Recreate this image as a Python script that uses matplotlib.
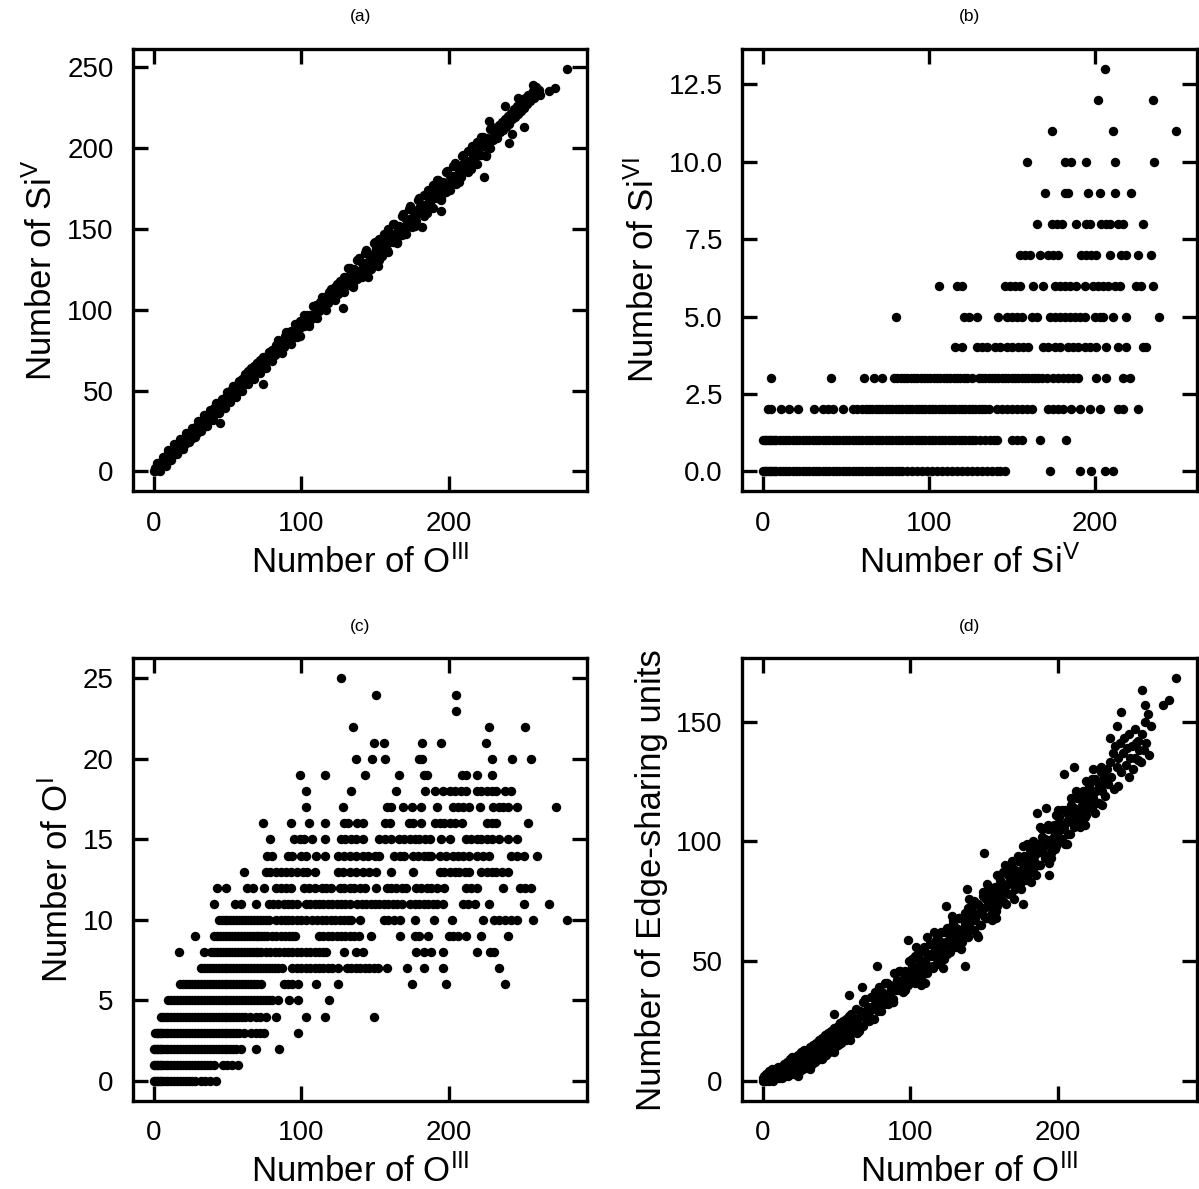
import numpy as np
import matplotlib.pyplot as plt

plt.rcParams['font.family'] = ['Liberation Sans', 'DejaVu Sans']
plt.rcParams['mathtext.fontset'] = 'custom'
plt.rcParams['mathtext.rm'] = 'Liberation Sans'
plt.rcParams['mathtext.it'] = 'Liberation Sans:italic'
plt.rcParams['mathtext.bf'] = 'Liberation Sans:bold'

# -------------------------------------------------
# (a) Si^V vs O^III  -- (O^III, Si^V) pairs
# -------------------------------------------------
pts_a = [
    (0, 0), (1, 0), (1, 2), (2, 1), (2, 3), (3, 1), (3, 4), (4, 2), (4, 5), (5, 3),
    (5, 6), (6, 4), (6, 7), (7, 5), (7, 8), (8, 6), (8, 9), (9, 6), (9, 10), (10, 7),
    (10, 10), (11, 8), (11, 11), (12, 9), (12, 12), (13, 10), (13, 13), (14, 11), (14, 14), (15, 12),
    (15, 15), (16, 13), (16, 16), (17, 13), (17, 17), (18, 14), (18, 18), (19, 15), (19, 19), (20, 16),
    (20, 19), (21, 17), (21, 20), (22, 18), (22, 21), (23, 19), (23, 22), (24, 19), (24, 23), (25, 20),
    (25, 24), (26, 21), (26, 25), (27, 22), (27, 26), (28, 23), (28, 27), (29, 24), (29, 28), (30, 25),
    (30, 29), (31, 26), (31, 29), (32, 27), (32, 30), (33, 27), (33, 31), (34, 28), (34, 32), (35, 29),
    (35, 33), (36, 30), (36, 34), (37, 31), (37, 35), (38, 32), (38, 36), (39, 33), (39, 37), (40, 34),
    (40, 38), (45, 30),
    (41, 35), (41, 39), (42, 36), (42, 40), (43, 37), (43, 39), (44, 38), (44, 41), (45, 38), (45, 42),
    (46, 40), (46, 43), (47, 40), (47, 44), (48, 42), (48, 45), (49, 43), (49, 46), (50, 43), (50, 47),
    (51, 45), (51, 48), (52, 46), (52, 50), (53, 46), (53, 49), (54, 48), (54, 51), (55, 48), (55, 52),
    (56, 50), (56, 53), (57, 50), (57, 54), (58, 52), (58, 55), (59, 52), (59, 56), (60, 54), (60, 57),
    (61, 54), (61, 58), (62, 56), (62, 59), (63, 57), (63, 60), (64, 57), (64, 62), (65, 59), (65, 62),
    (66, 59), (66, 64), (67, 61), (67, 63), (68, 62), (68, 65), (69, 62), (69, 66), (70, 63), (70, 67),
    (72, 64), (72, 69), (73, 66), (74, 67), (74, 54), (75, 68), (76, 68), (76, 71), (77, 70), (78, 69),
    (78, 73), (79, 71), (80, 72), (80, 75),
    (4, 0), (8, 3), (12, 7), (16, 11), (20, 14), (24, 18), (28, 21), (32, 25), (36, 28), (40, 32),
    (44, 36), (48, 39), (52, 43), (56, 46), (60, 50), (64, 54), (68, 57), (72, 61), (76, 64), (80, 68),
    (2, 5), (6, 9), (10, 13), (14, 17), (18, 20), (22, 24), (26, 27), (30, 31), (34, 35), (38, 38),
    (42, 42), (46, 45), (50, 49), (54, 53), (58, 56), (62, 60), (66, 63), (70, 67), (74, 71), (78, 74),
    (81, 74), (82, 72), (83, 78), (84, 75), (85, 74), (86, 79), (87, 78), (88, 77), (89, 84), (90, 80),
    (91, 83), (92, 81), (93, 87), (94, 84), (95, 83), (96, 88), (97, 87), (98, 86), (99, 93), (100, 89),
    (101, 92), (102, 90), (103, 96), (104, 93), (105, 92), (106, 97), (107, 96), (108, 95), (109, 102), (110, 98),
    (111, 101), (112, 99), (113, 105), (114, 102), (115, 101), (116, 106), (117, 105), (118, 104), (119, 111), (120, 107),
    (121, 110), (122, 108), (123, 114), (124, 111), (125, 110), (126, 115), (127, 114), (128, 113), (129, 120), (130, 116),
    (85, 80), (92, 86), (97, 83), (104, 97), (110, 103), (118, 109), (124, 116), (128, 101),
    (84, 81), (90, 86), (96, 91), (102, 97), (108, 102), (114, 108), (120, 113), (126, 118),
    (87, 73), (93, 79), (99, 84), (105, 90), (111, 95), (117, 100), (123, 106), (129, 111),
    (131, 120), (132, 115), (133, 126), (134, 120), (135, 115), (136, 125), (137, 123), (138, 119), (139, 132), (140, 124),
    (141, 129), (142, 124), (143, 135), (144, 129), (145, 124), (146, 134), (147, 132), (148, 128), (149, 141), (150, 133),
    (151, 138), (152, 133), (153, 144), (154, 138), (155, 133), (156, 143), (157, 141), (158, 137), (159, 150), (160, 142),
    (161, 147), (162, 142), (163, 153), (164, 147), (165, 142), (166, 152), (167, 150), (168, 146), (169, 159), (170, 151),
    (171, 156), (172, 151), (173, 162), (174, 156), (175, 151), (176, 161), (177, 159), (178, 155), (179, 168), (180, 160),
    (181, 165), (182, 160), (183, 171), (184, 165), (185, 160), (186, 170), (187, 168), (188, 164), (189, 177), (190, 169),
    (191, 174), (192, 169), (193, 180), (194, 174), (195, 169), (196, 179), (197, 177), (198, 173), (199, 186), (200, 178),
    (201, 183), (202, 178), (203, 189), (204, 183), (205, 178), (206, 188), (207, 186), (208, 182), (209, 195), (210, 187),
    (211, 192), (212, 187), (213, 198), (214, 192), (215, 187), (216, 197), (217, 195), (218, 191), (219, 204), (220, 196),
    (221, 201), (222, 196), (223, 207), (224, 201), (225, 196), (226, 206), (227, 204), (228, 200), (229, 213), (230, 205),
    (135, 121), (142, 128), (145, 120), (150, 136), (152, 127), (158, 142), (165, 148), (172, 155), (180, 163), (182, 151),
    (188, 170), (195, 161), (195, 175), (203, 183), (210, 190), (218, 197), (224, 182), (225, 203),
    (132, 126), (138, 131), (144, 137), (150, 142), (156, 147), (162, 153), (168, 158), (174, 164), (180, 169), (186, 174),
    (192, 180), (198, 185), (204, 191), (210, 196), (216, 201), (222, 207), (228, 212),
    (135, 114), (141, 120), (147, 125), (153, 131), (159, 136), (165, 141), (171, 147), (177, 152), (183, 158), (189, 163),
    (195, 168), (201, 174), (207, 179), (213, 185), (219, 190), (225, 195),
    (231, 208), (232, 212), (233, 206), (234, 214), (235, 210), (236, 216), (237, 211), (238, 218), (238, 226), (239, 213),
    (240, 220), (241, 203), (241, 215), (242, 222), (243, 209), (243, 218), (244, 224), (245, 219), (246, 226), (247, 221),
    (247, 231), (248, 228), (249, 223), (250, 229), (251, 213), (251, 225), (252, 231), (253, 227), (254, 233), (255, 229),
    (256, 232), (257, 235), (257, 239), (258, 231), (259, 238), (260, 234), (261, 236), (262, 233), (227, 217), (268, 235),
    (272, 237), (280, 249),
]

# -------------------------------------------------
# (b) Si^VI vs Si^V  -- Si^V values on each Si^VI level
# -------------------------------------------------
sivi_levels = list(range(14))
siv_rows = [
    [0, 1, 2, 3, 4, 5, 6, 7, 8, 10, 12, 14, 16, 18, 20, 22, 24, 26, 28, 30, 32, 34, 36, 38, 40,
     42, 44, 46, 48, 50, 52, 54, 56, 58, 60, 62, 64, 66, 68, 70, 72, 74, 76, 78, 80, 82, 84, 87,
     90, 93, 96, 99, 102, 105, 108, 111, 114, 117, 120, 123, 126, 129, 132, 135, 138, 141, 143,
     146, 173, 191, 198, 206, 211],
    [0, 1, 2, 3, 4, 5, 6, 7, 8, 10, 12, 14, 16, 18, 20, 22, 24, 26, 28, 30, 32, 34, 36, 38, 40,
     42, 44, 46, 48, 50, 52, 54, 56, 58, 60, 62, 64, 66, 68, 70, 72, 74, 76, 78, 80, 82, 84, 86,
     88, 90, 92, 94, 96, 98, 100, 102, 104, 106, 108, 110, 112, 114, 116, 118, 120, 122, 124, 126,
     128, 131, 134, 137, 139, 141, 150, 153, 156, 167, 183],
    [3, 5, 11, 16, 21, 31, 36, 39, 42, 48, 54, 57, 60, 62, 64, 66, 68, 70, 72, 74, 76, 78, 80, 82,
     84, 86, 88, 90, 92, 94, 96, 98, 100, 102, 104, 106, 108, 110, 112, 114, 116, 118, 120, 122,
     124, 126, 128, 130, 132, 134, 136, 141, 144, 147, 150, 153, 156, 159, 162, 172, 175, 178, 181,
     186, 191, 197, 203, 214, 217, 226],
    [5, 41, 61, 67, 72, 79, 81, 83, 85, 87, 89, 91, 93, 95, 97, 99, 101, 103, 105, 107, 109, 111,
     113, 115, 117, 119, 121, 123, 126, 130, 132, 134, 136, 138, 140, 142, 144, 146, 148, 150, 152,
     154, 156, 158, 160, 162, 164, 166, 168, 171, 175, 178, 181, 184, 187, 190, 201, 207, 217, 221],
    [116, 120, 129, 132, 135, 140, 143, 147, 150, 154, 157, 160, 169, 172, 176, 179, 184, 187, 190,
     194, 197, 201, 207, 214, 219, 229, 231],
    [80, 121, 124, 129, 142, 147, 150, 153, 156, 162, 165, 173, 176, 179, 182, 185, 188, 191, 194,
     200, 203, 205, 211, 219, 239],
    [106, 117, 120, 146, 149, 152, 155, 163, 169, 176, 179, 182, 185, 189, 194, 199, 202, 205, 208,
     212, 215, 225, 228, 235],
    [155, 158, 161, 167, 172, 175, 178, 192, 195, 198, 201, 209, 216, 219, 226, 234],
    [165, 174, 177, 180, 189, 195, 197, 204, 207, 209, 214, 217, 229],
    [170, 182, 184, 196, 203, 212, 222],
    [159, 182, 186, 195, 212, 236],
    [174, 211, 249],
    [202, 235],
    [206],
]

# -------------------------------------------------
# (c) O^I vs O^III  -- O^III values on each O^I level
# -------------------------------------------------
oi_levels = list(range(26))
oiii_rows = [
    [0, 1, 2, 3, 4, 5, 6, 8, 10, 12, 14, 16, 18, 20, 22, 24, 26, 28, 32, 35, 38, 42],
    [0, 1, 2, 3, 4, 5, 6, 8, 10, 12, 14, 16, 18, 20, 22, 24, 26, 28, 30, 32, 34, 36, 38, 41, 47,
     50, 53, 57],
    [0, 1, 2, 3, 4, 5, 6, 8, 10, 12, 14, 16, 18, 20, 22, 24, 26, 28, 30, 32, 34, 36, 38, 40, 42,
     44, 46, 48, 50, 52, 54, 56, 59, 69, 85],
    [1, 2, 3, 4, 5, 6, 8, 10, 12, 14, 16, 18, 20, 22, 24, 26, 28, 30, 32, 34, 36, 38, 40, 42, 44,
     46, 48, 50, 52, 54, 56, 58, 61, 66, 69, 72, 75, 98],
    [5, 6, 8, 10, 12, 14, 16, 18, 20, 22, 24, 26, 28, 30, 32, 34, 36, 38, 40, 42, 44, 46, 48, 50,
     52, 54, 56, 58, 60, 62, 65, 69, 72, 76, 83, 103, 116, 149],
    [10, 12, 14, 16, 18, 20, 22, 24, 26, 28, 30, 32, 34, 36, 38, 40, 42, 44, 46, 48, 50, 52, 54,
     56, 58, 60, 62, 64, 66, 68, 70, 72, 74, 76, 78, 80, 84, 92, 98, 119],
    [18, 20, 22, 24, 26, 28, 30, 32, 34, 36, 38, 40, 42, 44, 46, 48, 50, 52, 54, 56, 58, 60, 62,
     64, 66, 68, 70, 73, 88, 91, 94, 98, 110, 125, 175, 198, 238],
    [32, 34, 36, 38, 40, 42, 44, 46, 48, 50, 52, 54, 56, 58, 60, 62, 64, 66, 68, 70, 72, 74, 76,
     78, 80, 82, 84, 87, 94, 97, 100, 103, 106, 109, 112, 115, 118, 121, 125, 131, 134, 137, 140,
     143, 146, 149, 152, 158, 172, 183, 196, 234],
    [17, 34, 39, 41, 43, 45, 47, 49, 51, 53, 55, 57, 59, 61, 63, 65, 67, 69, 71, 73, 76, 79, 82,
     85, 88, 91, 94, 97, 100, 103, 106, 109, 112, 115, 117, 129, 137, 142, 178, 183, 188, 196, 219,
     228, 231],
    [28, 41, 43, 45, 47, 49, 51, 53, 55, 57, 59, 61, 63, 65, 67, 69, 71, 73, 75, 77, 80, 83, 86,
     89, 92, 94, 96, 112, 115, 118, 121, 124, 127, 130, 133, 136, 139, 147, 167, 177, 180, 186, 200,
     203, 206, 212, 222, 240],
    [44, 46, 48, 50, 52, 54, 56, 58, 60, 62, 64, 66, 68, 70, 72, 74, 76, 78, 83, 86, 89, 91, 94,
     97, 100, 103, 107, 111, 114, 117, 120, 123, 126, 129, 132, 134, 140, 156, 159, 163, 167, 177,
     190, 202, 223, 231, 234, 238, 242, 246, 257, 280],
    [41, 55, 59, 69, 78, 81, 84, 88, 91, 94, 97, 103, 106, 109, 112, 115, 118, 121, 124, 127, 130,
     133, 138, 141, 144, 147, 150, 153, 156, 159, 162, 165, 168, 174, 177, 180, 183, 186, 189, 192,
     196, 210, 213, 218, 227, 251, 268],
    [43, 49, 63, 67, 75, 83, 86, 90, 93, 102, 105, 109, 114, 117, 120, 126, 129, 133, 136, 140,
     143, 151, 158, 161, 164, 168, 171, 178, 181, 185, 188, 192, 197, 212, 215, 219, 237, 248, 252,
     256],
    [61, 76, 79, 83, 86, 90, 93, 97, 101, 104, 109, 125, 128, 133, 137, 142, 146, 151, 161, 176,
     194, 197, 201, 204, 207, 211, 214, 222, 226, 229, 232, 236, 240],
    [77, 80, 91, 94, 100, 103, 110, 116, 125, 129, 133, 137, 142, 145, 150, 153, 163, 167, 170,
     176, 179, 183, 186, 188, 194, 198, 203, 206, 210, 214, 219, 223, 227, 242, 246, 251, 260],
    [79, 95, 99, 102, 107, 116, 127, 130, 134, 137, 142, 153, 157, 161, 166, 170, 174, 177, 180,
     184, 187, 195, 201, 212, 215, 219, 222, 226, 229, 234, 240, 246],
    [74, 93, 105, 116, 129, 132, 138, 142, 157, 160, 173, 176, 181, 191, 194, 197, 201, 204, 209,
     226, 229, 232, 254],
    [103, 128, 158, 161, 169, 175, 181, 192, 203, 206, 210, 214, 221, 230, 234, 237, 240, 246, 273],
    [103, 134, 164, 184, 191, 196, 201, 204, 208, 212, 219, 222, 226, 229, 232, 238, 242],
    [99, 116, 143, 166, 183, 185, 209, 212, 219, 229],
    [137, 148, 157, 180, 182, 229, 243, 256],
    [149, 156, 182, 195, 225],
    [135, 227, 252],
    [205],
    [151, 205],
    [127],
]

# -------------------------------------------------
# (d) Edge-sharing units vs O^III  -- (O^III, edge) pairs
# -------------------------------------------------
pts_d = [
    (0, 0), (0, 1), (1, 0), (1, 2), (2, 0), (2, 3), (3, 1), (3, 3), (4, 0), (4, 4),
    (5, 1), (5, 3), (6, 1), (6, 5), (7, 0), (7, 4), (8, 2), (8, 5), (9, 1), (9, 4),
    (10, 2), (10, 6), (11, 1), (11, 5), (12, 3), (12, 6), (13, 1), (13, 6), (14, 3), (14, 7),
    (15, 2), (15, 6), (16, 4), (16, 8), (17, 2), (17, 7), (18, 4), (18, 9), (19, 3), (19, 8),
    (20, 4), (20, 9), (21, 3), (21, 8), (22, 5), (22, 10), (23, 4), (23, 9), (24, 6), (24, 11),
    (25, 4), (25, 10), (26, 6), (26, 12), (27, 5), (27, 11), (28, 7), (28, 12), (29, 6), (29, 11),
    (30, 7), (30, 13), (31, 6), (31, 12), (32, 8), (32, 14), (33, 7), (33, 13), (34, 9), (34, 15),
    (35, 8), (35, 14), (36, 10), (36, 16), (37, 9), (37, 15), (38, 10), (38, 17), (39, 9), (39, 16),
    (40, 11), (40, 18), (41, 10), (41, 17), (42, 12), (42, 19), (43, 11), (43, 18), (44, 13), (44, 20),
    (45, 12), (45, 19), (46, 14), (46, 21), (47, 13), (47, 20), (48, 15), (48, 22), (48, 28), (49, 14),
    (49, 21), (50, 16), (50, 22), (51, 15), (51, 23), (52, 17), (52, 24), (53, 16), (53, 23), (54, 18),
    (54, 25), (55, 17), (55, 24), (56, 19), (56, 26), (57, 18), (57, 25), (58, 20), (58, 27), (59, 19),
    (59, 26), (60, 21), (60, 28),
    (2, 1), (6, 3), (10, 4), (14, 5), (18, 6), (22, 7), (26, 9), (30, 10), (34, 12), (38, 13),
    (42, 15), (46, 17), (50, 19), (54, 21), (58, 23),
    (20, 10), (24, 2), (28, 13), (32, 5), (36, 15), (40, 9), (44, 19), (48, 12), (52, 24), (56, 17),
    (60, 27), (64, 20), (68, 33), (72, 25), (76, 37), (80, 29), (84, 41), (88, 33), (92, 46), (96, 38),
    (59, 17), (58, 36), (67, 39), (77, 48), (88, 33), (107, 40), (98, 59), (111, 60), (124, 73), (137, 48),
    (138, 80), (150, 95), (176, 74), (194, 86),
    (61, 26), (62, 21), (63, 30), (64, 24), (65, 21), (66, 29), (67, 27), (68, 23), (69, 34), (70, 26),
    (71, 31), (72, 27), (73, 35), (74, 30), (75, 26), (76, 35), (77, 32), (78, 29), (79, 39), (80, 32),
    (81, 37), (82, 32), (83, 41), (84, 35), (85, 32), (86, 40), (87, 38), (88, 34), (89, 45), (90, 38),
    (91, 42), (92, 38), (93, 46), (94, 41), (95, 37), (96, 46), (97, 43), (98, 40), (99, 50), (100, 43),
    (101, 48), (102, 43), (103, 52), (104, 46), (105, 43), (106, 51), (107, 49), (108, 45), (109, 56), (110, 48),
    (111, 53), (112, 48), (113, 57), (114, 52), (115, 48), (116, 57), (117, 54), (118, 51), (119, 61), (120, 54),
    (121, 58), (122, 54), (123, 62), (124, 57), (125, 53), (126, 62), (127, 60), (128, 56), (129, 67), (130, 59),
    (131, 64), (132, 59), (133, 68), (134, 62), (135, 59), (136, 67), (137, 65), (138, 62), (139, 72), (140, 65),
    (62, 24), (64, 26), (66, 27), (68, 28), (70, 29), (72, 30), (74, 31), (76, 32), (78, 33), (80, 34),
    (82, 35), (84, 36), (86, 37), (88, 38), (90, 40), (92, 41), (94, 42), (96, 43), (98, 44), (100, 46),
    (102, 46), (104, 47), (106, 48), (108, 49), (110, 50), (112, 52), (114, 53), (116, 54), (118, 55), (120, 56),
    (122, 57), (124, 58), (126, 59), (128, 61), (130, 62), (132, 62), (134, 63), (136, 64), (138, 66), (140, 67),
    (141, 70), (142, 63), (143, 75), (144, 67), (145, 61), (146, 74), (147, 70), (148, 65), (149, 79), (150, 69),
    (151, 76), (152, 68), (153, 81), (154, 73), (155, 67), (156, 80), (157, 76), (158, 71), (159, 86), (160, 75),
    (161, 82), (162, 75), (163, 87), (164, 79), (165, 74), (166, 86), (167, 83), (168, 78), (169, 92), (170, 82),
    (171, 88), (172, 81), (173, 94), (174, 85), (175, 80), (176, 93), (177, 89), (178, 84), (179, 99), (180, 88),
    (181, 95), (182, 87), (183, 100), (184, 92), (185, 86), (186, 99), (187, 96), (188, 90), (189, 105), (190, 95),
    (191, 101), (192, 94), (193, 107), (194, 98), (195, 93), (196, 105), (197, 102), (198, 97), (199, 111), (200, 101),
    (201, 108), (202, 100), (203, 113), (204, 105), (205, 99), (206, 112), (207, 109), (208, 103), (209, 118), (210, 108),
    (211, 114), (212, 107), (213, 120), (214, 111), (215, 106), (216, 119), (217, 115), (218, 110), (219, 125), (220, 114),
    (221, 121), (222, 114), (223, 126), (224, 118), (225, 112), (226, 125), (227, 122), (228, 116), (229, 131), (230, 121),
    (142, 68), (144, 69), (146, 70), (148, 71), (150, 72), (152, 73), (154, 75), (156, 76), (158, 77), (160, 78),
    (162, 80), (164, 81), (166, 82), (168, 84), (170, 85), (172, 86), (174, 87), (176, 89), (178, 90), (180, 91),
    (182, 92), (184, 94), (186, 95), (188, 96), (190, 98), (192, 99), (194, 100), (196, 101), (198, 103), (200, 104),
    (202, 105), (204, 107), (206, 108), (208, 109), (210, 111), (212, 112), (214, 113), (216, 115), (218, 116), (220, 117),
    (222, 119), (224, 120), (226, 121), (228, 122), (230, 124), (204, 128), (211, 131), (186, 112), (192, 114), (222, 117),
    (101, 51), (105, 53), (109, 55), (113, 57), (117, 59), (121, 62), (125, 64), (129, 66), (133, 68), (137, 70),
    (141, 72), (145, 74), (149, 77), (153, 79), (157, 81), (161, 84), (165, 87), (169, 89), (173, 92), (177, 94),
    (181, 97), (185, 99), (189, 102), (193, 105), (197, 107), (201, 110), (205, 113), (209, 115), (213, 118), (217, 121),
    (221, 123), (225, 126), (229, 129),
    (103, 41), (107, 43), (111, 45), (115, 47), (119, 49), (123, 51), (127, 54), (131, 56), (135, 58), (139, 60),
    (143, 63), (147, 65), (151, 68), (155, 70), (159, 73), (163, 75), (167, 78), (171, 80), (175, 83), (179, 85),
    (183, 88), (187, 90), (191, 93), (195, 95), (199, 98), (203, 101), (207, 103), (211, 106), (215, 109), (219, 111),
    (223, 114), (227, 116),
    (104, 56), (110, 41), (116, 62), (122, 47), (128, 69), (134, 55), (140, 76), (146, 60), (152, 82), (158, 68),
    (164, 90), (170, 76), (176, 98), (182, 83), (188, 106), (194, 91), (200, 113), (206, 99), (212, 121), (218, 107),
    (224, 130), (230, 115),
    (231, 127), (232, 119), (233, 130), (234, 124), (235, 143), (235, 133), (236, 127), (237, 137), (238, 122), (239, 140),
    (240, 148), (240, 131), (241, 123), (241, 135), (242, 141), (243, 154), (243, 129), (244, 137), (245, 143), (246, 132),
    (247, 139), (248, 127), (248, 145), (249, 135), (250, 140), (251, 130), (252, 135), (252, 147), (253, 141), (254, 134),
    (254, 142), (255, 138), (256, 133), (257, 163), (257, 145), (258, 138), (259, 150), (259, 157), (260, 141), (261, 153),
    (262, 136), (263, 148), (271, 157), (275, 159), (280, 168),
]

oiii_a, siv_a = np.array(pts_a).T
siv_b = np.concatenate(siv_rows)
sivi_b = np.repeat(sivi_levels, [len(r) for r in siv_rows])
oiii_c = np.concatenate(oiii_rows)
oi_c = np.repeat(oi_levels, [len(r) for r in oiii_rows])
oiii_d, edge_d = np.array(pts_d).T

# -------------------------------------------------
# Figure
# -------------------------------------------------
fig, axes = plt.subplots(2, 2, figsize=(11.99, 11.89), dpi=100)
fig.subplots_adjust(left=0.111, right=0.998, bottom=0.074, top=0.959,
                    wspace=0.341, hspace=0.377)

panels = [
    (axes[0, 0], oiii_a, siv_a, '(a)', r'Number of O$^{\mathrm{III}}$',
     r'Number of Si$^{\mathrm{V}}$', [0, 50, 100, 150, 200, 250], '%d'),
    (axes[0, 1], siv_b, sivi_b, '(b)', r'Number of Si$^{\mathrm{V}}$',
     r'Number of Si$^{\mathrm{VI}}$', [0, 2.5, 5, 7.5, 10, 12.5], '%.1f'),
    (axes[1, 0], oiii_c, oi_c, '(c)', r'Number of O$^{\mathrm{III}}$',
     r'Number of O$^{\mathrm{I}}$', [0, 5, 10, 15, 20, 25], '%d'),
    (axes[1, 1], oiii_d, edge_d, '(d)', r'Number of O$^{\mathrm{III}}$',
     'Number of Edge-sharing units', [0, 50, 100, 150], '%d'),
]

for ax, x, y, title, xlabel, ylabel, yticks, yfmt in panels:
    ax.scatter(x, y, s=46, c='black', linewidths=0)
    ax.set_title(title, fontsize=12.5, pad=20)
    ax.set_xlabel(xlabel, fontsize=25, labelpad=6)
    ax.set_ylabel(ylabel, fontsize=25, labelpad=6)
    ax.set_xticks([0, 100, 200])
    ax.set_yticks(yticks)
    ax.set_yticklabels([yfmt % t for t in yticks])
    ax.tick_params(direction='in', top=True, right=True, length=11, width=2.4,
                   labelsize=20, pad=14)
    for sp in ax.spines.values():
        sp.set_linewidth(2.4)

plt.savefig('out.png', dpi=100)
